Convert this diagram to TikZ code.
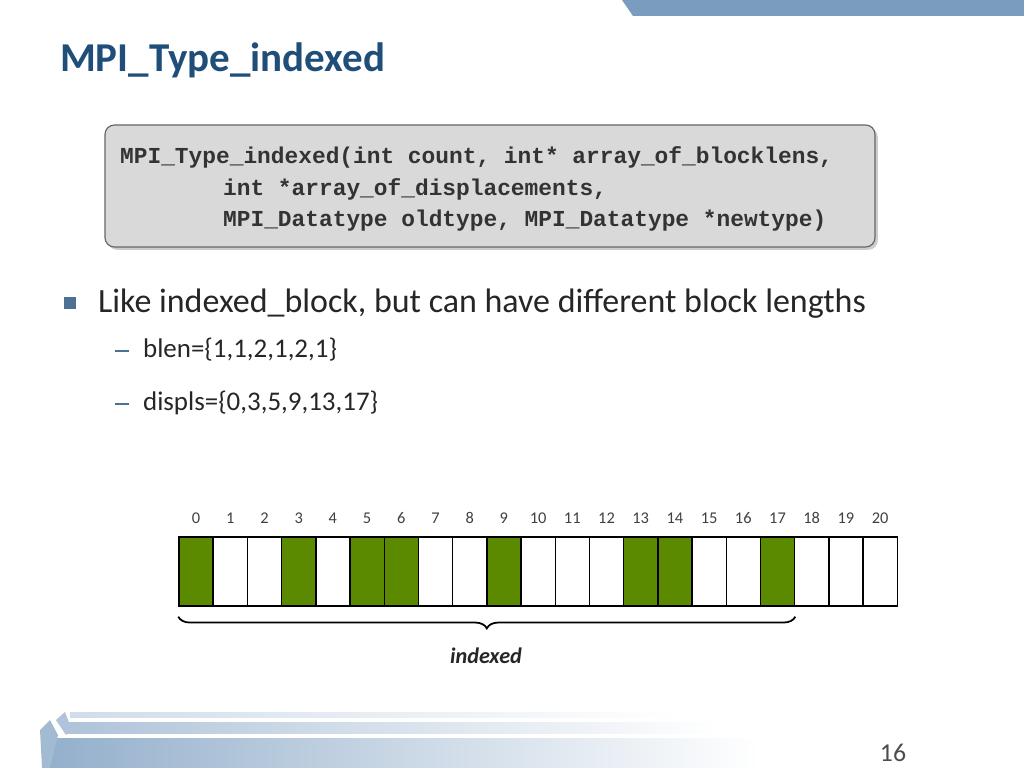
\documentclass[tikz,border=0pt]{standalone}
\usepackage{fontspec}
\setmainfont{Carlito}
\setmonofont{Liberation Mono}
\usetikzlibrary{positioning,decorations.pathreplacing,shadows}
\definecolor{barblue}{HTML}{7A9CBF}
\definecolor{titleblue}{HTML}{1F4E79}
\definecolor{cellgreen}{HTML}{5B8A00}
\definecolor{boxgray}{HTML}{D9D9D9}
\tikzset{
  cell/.style={draw,line width=1.2pt,minimum width=34.2*0.03cm,minimum height=69*0.03cm,inner sep=0pt},
  full/.style={cell,fill=cellgreen},
  idx/.style={font=\fontsize{14}{16}\selectfont,text=black!75},
  codeline/.style={anchor=west,font=\fontsize{19.5}{22}\selectfont\ttfamily\bfseries,text=black!80},
  bodytext/.style={anchor=west,font=\fontsize{29}{33}\selectfont,text=black!85},
  subtext/.style={anchor=west,font=\fontsize{23}{26}\selectfont,text=black!85}
}
\begin{document}
\begin{tikzpicture}[x=0.03cm,y=-0.03cm]
  \useasboundingbox (0,0) rectangle (1024,768);

  % header bar and title
  \fill[barblue] (622,0) -- (1024,0) -- (1024,16) -- (633,16) -- cycle;
  \node[anchor=west,font=\fontsize{35}{40}\selectfont\bfseries,text=titleblue] (title) at (56,60) {MPI\_Type\_indexed};

  % code box
  \node[draw=black!60,line width=1pt,rounded corners=8pt,fill=boxgray,drop shadow={opacity=0.4},
        minimum width=770*0.03cm,minimum height=122*0.03cm] (code) at (490,186) {};
  \node[codeline] (l1) at (116,157) {MPI\_Type\_indexed(int count, int* array\_of\_blocklens,};
  \node[codeline] (l2) at (219,189) {int *array\_of\_displacements,};
  \node[codeline] (l3) at (219,221) {MPI\_Datatype oldtype, MPI\_Datatype *newtype)};

  % bullets
  \fill[titleblue!80] (64,297) rectangle (76,309);
  \node[bodytext] (b1) at (94,304) {Like indexed\_block, but can have different block lengths};
  \draw[titleblue!80,line width=1.2pt] (115,351) -- (129,351);
  \node[subtext] (b2) at (139,350) {blen=\{1,1,2,1,2,1\}};
  \draw[titleblue!80,line width=1.2pt] (115,404) -- (129,404);
  \node[subtext] (b3) at (139,403) {displs=\{0,3,5,9,13,17\}};

  % memory cells
  \foreach \i in {0,...,20} {
    \node[cell] (c\i) at ({196.1+34.2*\i},571.5) {};
    \node[idx,above=9*0.03cm of c\i] (n\i) {\i};
  }
  \foreach \i in {0,3,5,6,9,13,14,17}
    \node[full] at (c\i) {};

  % brace
  \coordinate (bl) at ([yshift=-0.3cm]c0.south west);
  \coordinate (br) at ([yshift=-0.3cm]c17.south east);
  \draw[line width=1.5pt,decorate,decoration={brace,mirror,amplitude=0.35cm}] (bl) -- (br);
  \node[font=\fontsize{19}{22}\selectfont\bfseries\itshape,text=black!85] (lab) at (486,656) {indexed};

  % footer
  \shade[left color=barblue!80,right color=white] (50,738) rectangle (760,768);
  \shade[left color=barblue!60,right color=white] (66,722) rectangle (720,733);
  \shade[left color=barblue!35,right color=white] (70,712) rectangle (680,717);
  \fill[barblue!70] (40,730) -- (50,720) -- (58,735) -- (50,768) -- (42,768) -- cycle;
  \fill[barblue!60] (56,720) -- (65,712) -- (72,730) -- (66,735) -- cycle;
  \node[font=\fontsize{22}{24}\selectfont,text=black!70] (page) at (893,753) {16};
\end{tikzpicture}
\end{document}
